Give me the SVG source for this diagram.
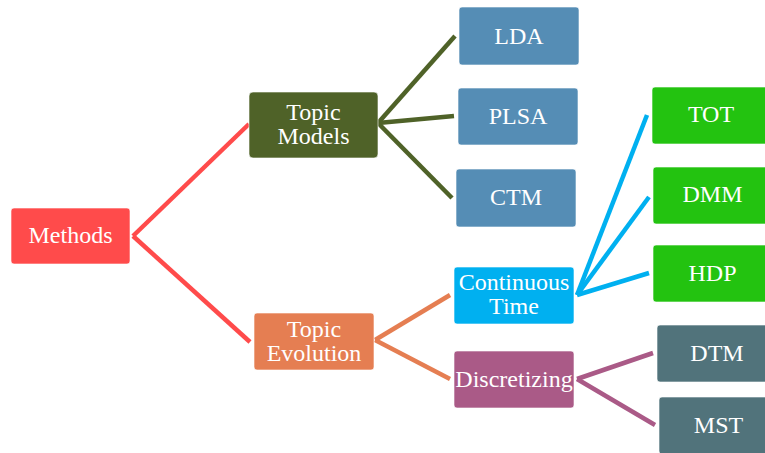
<svg xmlns="http://www.w3.org/2000/svg" width="765" height="453" viewBox="0 0 765 453">
<style>
.n rect{stroke:#ffffff;stroke-opacity:0.6;stroke-width:1}
.n text{font-family:"Liberation Serif","Times New Roman",serif;font-size:24px;fill:#ffffff;text-anchor:middle}
.c line{stroke-width:4.5;stroke-linecap:butt;fill:none}
</style>
<rect width="765" height="453" fill="#ffffff"/>
<g class="c" id="connectors">
<line x1="133" y1="236" x2="249" y2="124" stroke="#FF4B4B"/>
<line x1="133" y1="236" x2="250" y2="342" stroke="#FF4B4B"/>
<line x1="378" y1="123" x2="455" y2="36" stroke="#4F6228"/>
<line x1="378" y1="123" x2="454" y2="116" stroke="#4F6228"/>
<line x1="378" y1="123" x2="452" y2="198" stroke="#4F6228"/>
<line x1="375" y1="340" x2="450" y2="295" stroke="#E57E52"/>
<line x1="375" y1="340" x2="450" y2="379" stroke="#E57E52"/>
<line x1="577" y1="295" x2="647" y2="115" stroke="#00B0F0"/>
<line x1="577" y1="295" x2="649" y2="197" stroke="#00B0F0"/>
<line x1="577" y1="295" x2="649" y2="273" stroke="#00B0F0"/>
<line x1="577" y1="379" x2="653" y2="353" stroke="#AA5A87"/>
<line x1="577" y1="379" x2="655" y2="425" stroke="#AA5A87"/>
</g>
<g class="n" id="methods"><rect x="11" y="208" width="119" height="56" rx="3" fill="#FF4B4B"/><text x="70.5" y="243">Methods</text></g>
<g class="n" id="topic-models"><rect x="249" y="92" width="129" height="66" rx="4" fill="#4F6228"/><text x="313.5" y="119.5">Topic</text><text x="313.5" y="143.5">Models</text></g>
<g class="n" id="topic-evolution"><rect x="254" y="313" width="120" height="57" rx="3" fill="#E57E52"/><text x="314" y="337">Topic</text><text x="314" y="361">Evolution</text></g>
<g class="n" id="lda"><rect x="459" y="7" width="120" height="58" rx="3" fill="#558DB5"/><text x="519" y="43.5">LDA</text></g>
<g class="n" id="plsa"><rect x="458" y="88" width="120" height="57" rx="3" fill="#558DB5"/><text x="518" y="123.5">PLSA</text></g>
<g class="n" id="ctm"><rect x="456" y="169" width="120" height="58" rx="3" fill="#558DB5"/><text x="516" y="204.5">CTM</text></g>
<g class="n" id="continuous-time"><rect x="454" y="267" width="120" height="57" rx="3" fill="#00B0F0"/><text x="514" y="290">Continuous</text><text x="514" y="314">Time</text></g>
<g class="n" id="discretizing"><rect x="454" y="351" width="120" height="57" rx="3" fill="#AA5A87"/><text x="514" y="387">Discretizing</text></g>
<g class="n" id="tot"><rect x="652" y="87" width="120" height="57" rx="3" fill="#23C310"/><text x="711" y="122">TOT</text></g>
<g class="n" id="dmm"><rect x="653" y="167" width="120" height="57" rx="3" fill="#23C310"/><text x="712.5" y="202">DMM</text></g>
<g class="n" id="hdp"><rect x="653" y="245" width="120" height="57" rx="3" fill="#23C310"/><text x="712.5" y="280.5">HDP</text></g>
<g class="n" id="dtm"><rect x="657" y="325" width="120" height="57" rx="3" fill="#51737B"/><text x="717" y="360.5">DTM</text></g>
<g class="n" id="mst"><rect x="659" y="397" width="120" height="57" rx="3" fill="#51737B"/><text x="718.5" y="433">MST</text></g>
</svg>
